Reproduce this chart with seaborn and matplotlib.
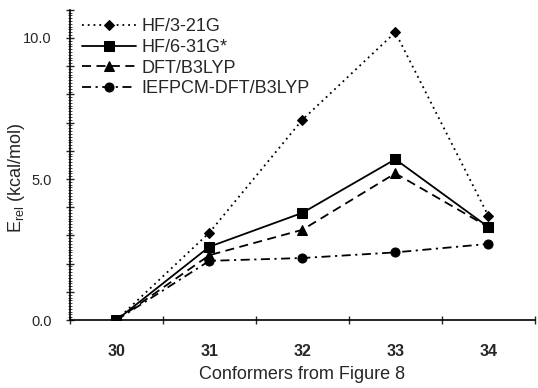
import pandas as pd
import matplotlib
matplotlib.use('Agg')
import matplotlib.pyplot as plt
import seaborn as sns
from matplotlib.ticker import MultipleLocator, FuncFormatter, FixedLocator

# Data
conformers = ['30', '31', '32', '33', '34']
hf_321g = [0.0, 3.1, 7.1, 10.2, 3.7]
hf_631g = [0.0, 2.6, 3.8, 5.7, 3.3]
dft_b3lyp = [0.0, 2.3, 3.2, 5.2, 3.3]
iefpcm_dft = [0.0, 2.1, 2.2, 2.4, 2.7]

series = {
    'HF/3-21G': hf_321g,
    'HF/6-31G*': hf_631g,
    'DFT/B3LYP': dft_b3lyp,
    'IEFPCM-DFT/B3LYP': iefpcm_dft,
}

rows = []
for name, vals in series.items():
    for c, v in zip(conformers, vals):
        rows.append({'Conformer': c, 'E': v, 'Method': name})
df = pd.DataFrame(rows)

sns.set_theme(style='ticks')
plt.rcParams['font.family'] = ['Liberation Sans', 'DejaVu Sans']
plt.rcParams['mathtext.fontset'] = 'custom'
plt.rcParams['mathtext.rm'] = 'Liberation Sans'
plt.rcParams['mathtext.it'] = 'Liberation Sans:italic'

styles = {
    'HF/3-21G': dict(marker='D', markersize=5.5, dashes=(1, 2.2)),
    'HF/6-31G*': dict(marker='s', markersize=6.5, dashes=''),
    'DFT/B3LYP': dict(marker='^', markersize=7, dashes=(5, 3)),
    'IEFPCM-DFT/B3LYP': dict(marker='o', markersize=6.5, dashes=(5, 2.5, 1.2, 2.5)),
}

fig = plt.figure(figsize=(5.38, 3.88), dpi=100)
ax = fig.add_axes([0.130, 0.175, 0.864, 0.80])

for name in series:
    st = styles[name]
    sub = df[df['Method'] == name]
    sns.lineplot(data=sub, x='Conformer', y='E', ax=ax, color='black',
                 linewidth=1.3, marker=st['marker'], markersize=st['markersize'],
                 markeredgecolor='black', markerfacecolor='black', label=name,
                 sort=False)
    l = ax.lines[-1]
    if st['dashes']:
        l.set_dashes(st['dashes'])
    else:
        l.set_linestyle('-')

ax.set_xlim(-0.5, 4.5)
ax.set_ylim(0, 11)

# y ticks
ax.yaxis.set_major_locator(MultipleLocator(1))
ax.yaxis.set_minor_locator(MultipleLocator(0.1))
ax.yaxis.set_major_formatter(FuncFormatter(lambda v, p: f'{v:.1f}' if abs(v % 5) < 1e-6 else ''))
ax.tick_params(axis='y', which='major', direction='inout', length=6, width=1, labelsize=10.5, pad=10)
ax.tick_params(axis='y', which='minor', direction='inout', length=3, width=0.6)

# x ticks: labels at centres, marks at category boundaries
ax.xaxis.set_minor_locator(FixedLocator([-0.5, 0.5, 1.5, 2.5, 3.5, 4.5]))
ax.tick_params(axis='x', which='major', length=0, labelsize=11.5, pad=17)
ax.tick_params(axis='x', which='minor', direction='inout', length=6, width=1)
for lbl in ax.get_xticklabels():
    lbl.set_fontweight('bold')

ax.set_xlabel('Conformers from Figure 8', fontsize=13, labelpad=5)
ax.set_ylabel('E$_{\\rm rel}$ (kcal/mol)', fontsize=13)
ax.yaxis.set_label_coords(-0.093, 0.46)

for side in ['top', 'right']:
    ax.spines[side].set_visible(False)
for side in ['left', 'bottom']:
    ax.spines[side].set_linewidth(1.2)
    ax.spines[side].set_color('black')

leg = ax.legend(loc='upper left', bbox_to_anchor=(0.01, 0.995), frameon=False, fontsize=13,
                handlelength=3.0, handletextpad=0.3, labelspacing=0.2, borderaxespad=0)

fig.savefig('out.png', dpi=100)
